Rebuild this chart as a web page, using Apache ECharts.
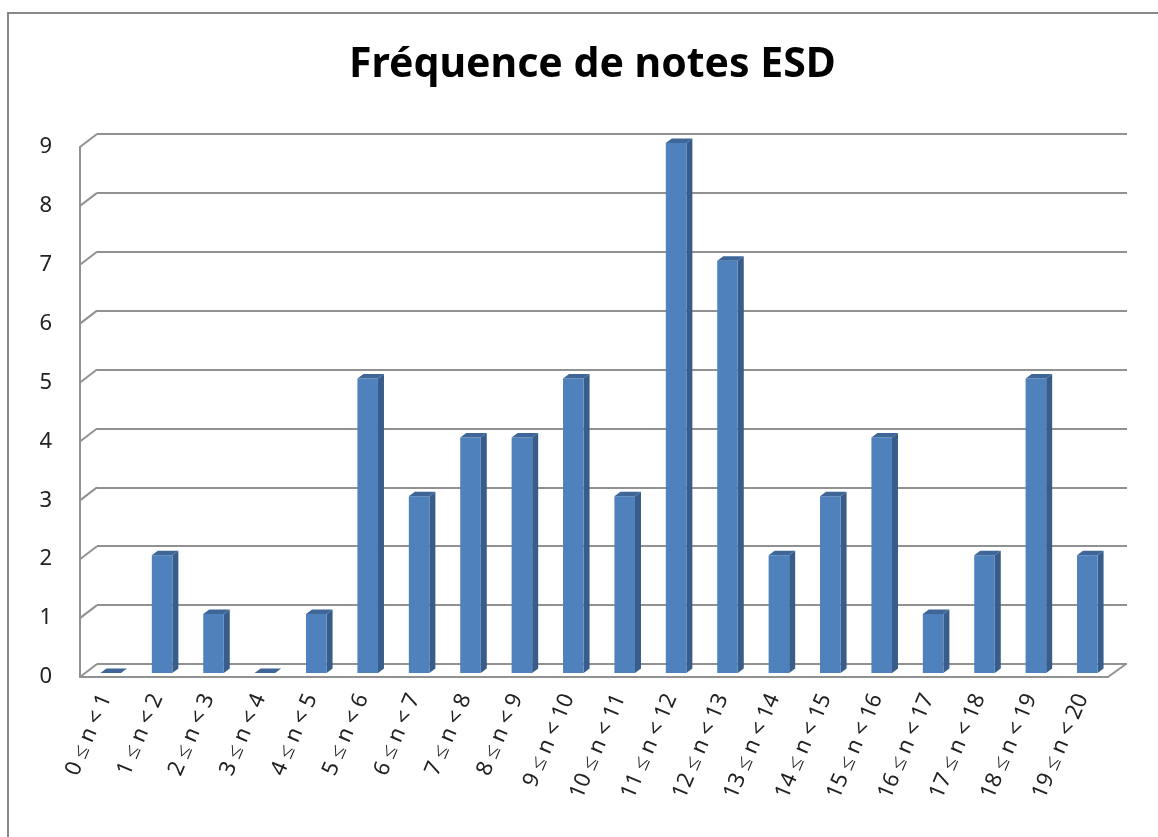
<!DOCTYPE html>
<html>
<head>
<meta charset="utf-8">
<script src="https://cdn.jsdelivr.net/npm/echarts@6/dist/echarts.min.js"></script>
<style>
  html, body { margin: 0; padding: 0; background: #fff; }
  #chart { width: 1158px; height: 837px; }
</style>
</head>
<body>
<div id="chart"></div>
<script>
// données
const categories = [
  "0 ≤ n < 1", "1 ≤ n < 2", "2 ≤ n < 3", "3 ≤ n < 4", "4 ≤ n < 5",
  "5 ≤ n < 6", "6 ≤ n < 7", "7 ≤ n < 8", "8 ≤ n < 9", "9 ≤ n < 10",
  "10 ≤ n < 11", "11 ≤ n < 12", "12 ≤ n < 13", "13 ≤ n < 14", "14 ≤ n < 15",
  "15 ≤ n < 16", "16 ≤ n < 17", "17 ≤ n < 18", "18 ≤ n < 19", "19 ≤ n < 20"
];
const frequencies = [0, 2, 1, 0, 1, 5, 3, 4, 4, 5, 3, 9, 7, 2, 3, 4, 1, 2, 5, 2];
const yTicks = [0, 1, 2, 3, 4, 5, 6, 7, 8, 9];

const gridColor = "#919191";
const DX = 17, DY = -13; // profondeur du mur du fond

const myChart = echarts.init(document.getElementById("chart"));

// barres 3D : face avant, côté, dessus
function renderBar(params, api) {
  const i = api.value(0);
  const v = api.value(1);
  const top = api.coord([i, v]);
  const base = api.coord([i, 0]);
  const half = api.size([1, 0])[0] * 0.2;
  const ox = 5, oy = -4;   // léger recul dans la profondeur
  const dx = 6, dy = -4.5; // épaisseur de la barre
  const x0 = top[0] + ox - half, x1 = top[0] + ox + half;
  const yt = top[1] + oy, yb = base[1] + oy;
  return {
    type: "group",
    children: [
      {
        type: "polygon",
        shape: { points: [[x1, yb], [x1 + dx, yb + dy], [x1 + dx, yt + dy], [x1, yt]] },
        style: { fill: "#385d8a" }
      },
      {
        type: "rect",
        shape: { x: x0, y: yt, width: x1 - x0, height: yb - yt },
        style: { fill: "#4f81bd" }
      },
      {
        type: "polygon",
        shape: { points: [[x0, yt], [x0 + dx, yt + dy], [x1 + dx, yt + dy], [x1, yt]] },
        style: { fill: "#3e6699" }
      }
    ]
  };
}

// petits traits obliques reliant l'axe avant au mur du fond
function renderDiag(params, api) {
  const v = api.value(1);
  const y = api.coord([0, v])[1];
  const cs = params.coordSys;
  const children = [{
    type: "line",
    shape: { x1: cs.x, y1: y, x2: cs.x + DX, y2: y + DY },
    style: { stroke: gridColor, lineWidth: 2 }
  }];
  if (v === 0) {
    children.push({
      type: "line",
      shape: { x1: cs.x + cs.width, y1: y, x2: cs.x + cs.width + 18, y2: y + DY },
      style: { stroke: gridColor, lineWidth: 2 }
    });
  }
  return { type: "group", children: children };
}

const option = {
  backgroundColor: "#fff",
  animation: false,
  title: {
    text: "Fréquence de notes ESD",
    left: 344,
    top: 40,
    textStyle: { fontFamily: "Noto Sans", fontWeight: "bold", fontSize: 41, color: "#000" }
  },
  graphic: [{
    type: "rect",
    shape: { x: 8, y: 13, width: 1200, height: 900 },
    style: { fill: "none", stroke: "#888", lineWidth: 2 },
    z: -10
  }],
  grid: [
    { left: 97, right: 31, top: 134, bottom: 173 },
    { left: 80, right: 50, top: 147, bottom: 160 }
  ],
  xAxis: [
    { gridIndex: 0, type: "category", data: categories, show: false },
    {
      gridIndex: 1,
      type: "category",
      data: categories,
      axisLine: { show: true, lineStyle: { color: gridColor, width: 2 } },
      axisTick: { show: false },
      axisLabel: {
        rotate: 67,
        interval: 0,
        margin: 18,
        fontFamily: "Noto Sans",
        fontSize: 22,
        color: "#222"
      }
    }
  ],
  yAxis: [
    {
      gridIndex: 0,
      type: "value",
      min: 0,
      max: 9,
      interval: 1,
      axisLine: { show: false },
      axisTick: { show: false },
      axisLabel: { show: false },
      splitLine: { lineStyle: { color: gridColor, width: 2 } }
    },
    {
      gridIndex: 1,
      type: "value",
      min: 0,
      max: 9,
      interval: 1,
      axisLine: { show: true, lineStyle: { color: gridColor, width: 2 } },
      axisTick: { show: false },
      splitLine: { show: false },
      axisLabel: { margin: 28, fontFamily: "Noto Sans", fontSize: 22, color: "#222" }
    }
  ],
  series: [
    {
      type: "custom",
      xAxisIndex: 1,
      yAxisIndex: 1,
      renderItem: renderDiag,
      data: yTicks.map(t => [0, t]),
      clip: false,
      silent: true,
      z: 1
    },
    {
      type: "custom",
      xAxisIndex: 1,
      yAxisIndex: 1,
      renderItem: renderBar,
      data: frequencies.map((v, i) => [i, v]),
      clip: false,
      z: 5
    }
  ]
};

myChart.setOption(option);
window.addEventListener("resize", () => myChart.resize());
</script>
</body>
</html>
